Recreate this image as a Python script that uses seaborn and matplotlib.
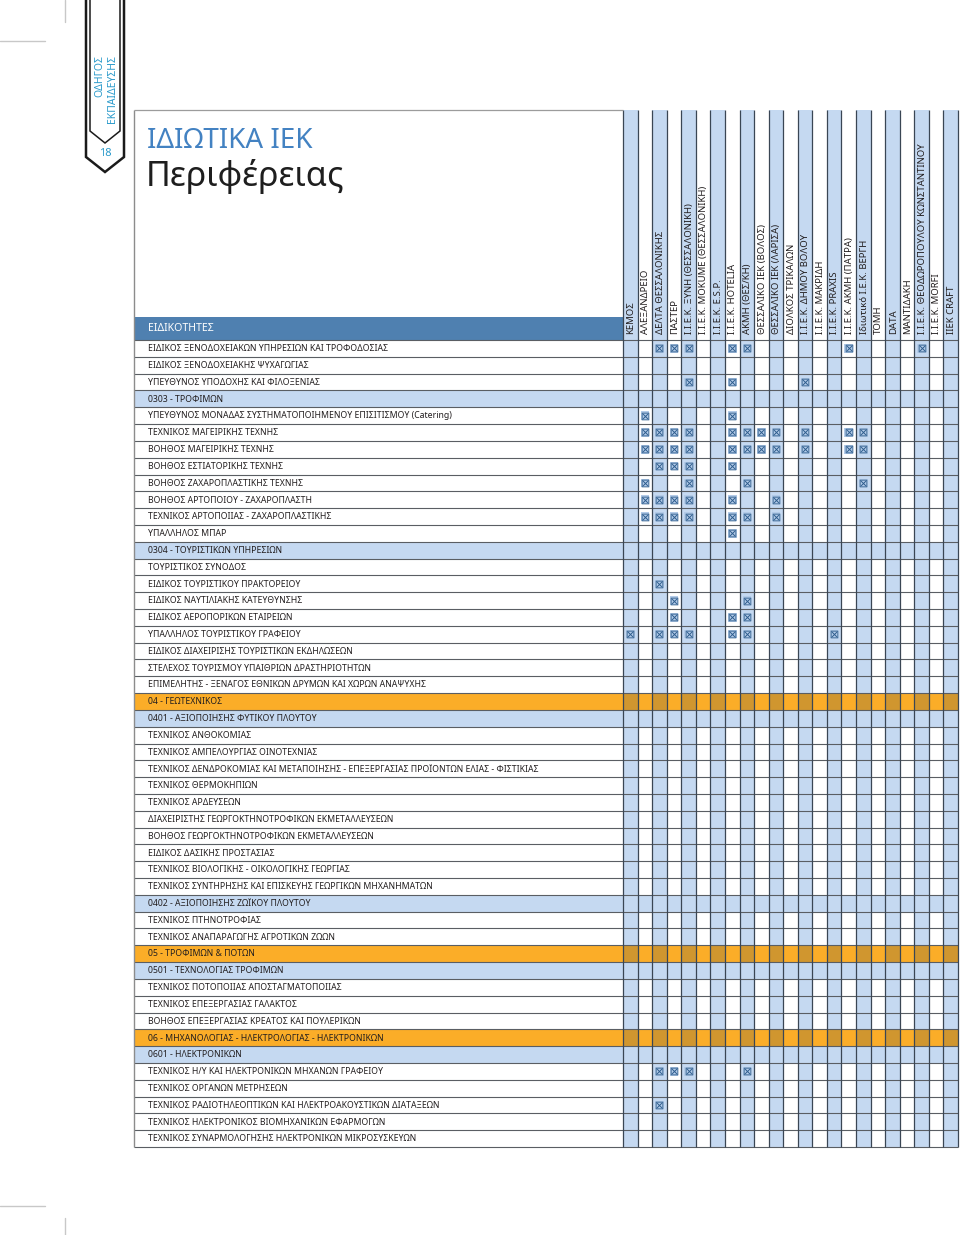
import numpy as np
import pandas as pd
import matplotlib
matplotlib.use("Agg")
import matplotlib.pyplot as plt
import seaborn as sns
from matplotlib.patches import Rectangle, Polygon
from matplotlib.lines import Line2D

sns.set_theme(style="white")
plt.rcParams["font.family"] = ["Noto Sans", "DejaVu Sans"]

# ---------------- data ----------------
institutions = [
    "ΚΕΜΟΣ", "ΑΛΕΞΑΝΔΡΕΙΟ", "ΔΕΛΤΑ ΘΕΣΣΑΛΟΝΙΚΗΣ", "ΠΑΣΤΕΡ",
    "Ι.Ι.Ε.Κ. ΞΥΝΗ (ΘΕΣΣΑΛΟΝΙΚΗ)", "Ι.Ι.Ε.Κ. MOKUME (ΘΕΣΣΑΛΟΝΙΚΗ)",
    "Ι.Ι.Ε.Κ. E.S.P.", "Ι.Ι.Ε.Κ. HOTELIA", "ΑΚΜΗ (ΘΕΣ/ΚΗ)",
    "ΘΕΣΣΑΛΙΚΟ ΙΕΚ (ΒΟΛΟΣ)", "ΘΕΣΣΑΛΙΚΟ ΙΕΚ (ΛΑΡΙΣΑ)", "ΔΙΟΛΚΟΣ ΤΡΙΚΑΛΩΝ",
    "Ι.Ι.Ε.Κ. ΔΗΜΟΥ ΒΟΛΟΥ", "Ι.Ι.Ε.Κ. ΜΑΚΡΙΔΗ", "Ι.Ι.Ε.Κ. PRAXIS",
    "Ι.Ι.Ε.Κ. ΑΚΜΗ (ΠΑΤΡΑ)", "Ιδιωτικό Ι.Ε.Κ. ΒΕΡΓΗ", "ΤΟΜΗ", "DATA",
    "ΜΑΝΤΙΔΑΚΗ", "Ι.Ι.Ε.Κ. ΘΕΟΔΩΡΟΠΟΥΛΟΥ ΚΩΝΣΤΑΝΤΙΝΟΥ", "Ι.Ι.Ε.Κ. MORFI",
    "IIEK CRAFT",
]

specialties = [
    "ΕΙΔΙΚΟΣ ΞΕΝΟΔΟΧΕΙΑΚΩΝ ΥΠΗΡΕΣΙΩΝ ΚΑΙ ΤΡΟΦΟΔΟΣΙΑΣ",
    "ΕΙΔΙΚΟΣ ΞΕΝΟΔΟΧΕΙΑΚΗΣ ΨΥΧΑΓΩΓΙΑΣ",
    "ΥΠΕΥΘΥΝΟΣ ΥΠΟΔΟΧΗΣ ΚΑΙ ΦΙΛΟΞΕΝΙΑΣ",
    "0303 - ΤΡΟΦΙΜΩΝ",
    "ΥΠΕΥΘΥΝΟΣ ΜΟΝΑΔΑΣ ΣΥΣΤΗΜΑΤΟΠΟΙΗΜΕΝΟΥ ΕΠΙΣΙΤΙΣΜΟΥ (Catering)",
    "ΤΕΧΝΙΚΟΣ ΜΑΓΕΙΡΙΚΗΣ ΤΕΧΝΗΣ",
    "ΒΟΗΘΟΣ ΜΑΓΕΙΡΙΚΗΣ ΤΕΧΝΗΣ",
    "ΒΟΗΘΟΣ ΕΣΤΙΑΤΟΡΙΚΗΣ ΤΕΧΝΗΣ",
    "ΒΟΗΘΟΣ ΖΑΧΑΡΟΠΛΑΣΤΙΚΗΣ ΤΕΧΝΗΣ",
    "ΒΟΗΘΟΣ ΑΡΤΟΠΟΙΟΥ - ΖΑΧΑΡΟΠΛΑΣΤΗ",
    "ΤΕΧΝΙΚΟΣ ΑΡΤΟΠΟΙΙΑΣ - ΖΑΧΑΡΟΠΛΑΣΤΙΚΗΣ",
    "ΥΠΑΛΛΗΛΟΣ ΜΠΑΡ",
    "0304 - ΤΟΥΡΙΣΤΙΚΩΝ ΥΠΗΡΕΣΙΩΝ",
    "ΤΟΥΡΙΣΤΙΚΟΣ ΣΥΝΟΔΟΣ",
    "ΕΙΔΙΚΟΣ ΤΟΥΡΙΣΤΙΚΟΥ ΠΡΑΚΤΟΡΕΙΟΥ",
    "ΕΙΔΙΚΟΣ ΝΑΥΤΙΛΙΑΚΗΣ ΚΑΤΕΥΘΥΝΣΗΣ",
    "ΕΙΔΙΚΟΣ ΑΕΡΟΠΟΡΙΚΩΝ ΕΤΑΙΡΕΙΩΝ",
    "ΥΠΑΛΛΗΛΟΣ ΤΟΥΡΙΣΤΙΚΟΥ ΓΡΑΦΕΙΟΥ",
    "ΕΙΔΙΚΟΣ ΔΙΑΧΕΙΡΙΣΗΣ ΤΟΥΡΙΣΤΙΚΩΝ ΕΚΔΗΛΩΣΕΩΝ",
    "ΣΤΕΛΕΧΟΣ ΤΟΥΡΙΣΜΟΥ ΥΠΑΙΘΡΙΩΝ ΔΡΑΣΤΗΡΙΟΤΗΤΩΝ",
    "ΕΠΙΜΕΛΗΤΗΣ - ΞΕΝΑΓΟΣ ΕΘΝΙΚΩΝ ΔΡΥΜΩΝ ΚΑΙ ΧΩΡΩΝ ΑΝΑΨΥΧΗΣ",
    "04 - ΓΕΩΤΕΧΝΙΚΟΣ",
    "0401 - ΑΞΙΟΠΟΙΗΣΗΣ ΦΥΤΙΚΟΥ ΠΛΟΥΤΟΥ",
    "ΤΕΧΝΙΚΟΣ ΑΝΘΟΚΟΜΙΑΣ",
    "ΤΕΧΝΙΚΟΣ ΑΜΠΕΛΟΥΡΓΙΑΣ ΟΙΝΟΤΕΧΝΙΑΣ",
    "ΤΕΧΝΙΚΟΣ ΔΕΝΔΡΟΚΟΜΙΑΣ ΚΑΙ ΜΕΤΑΠΟΙΗΣΗΣ - ΕΠΕΞΕΡΓΑΣΙΑΣ ΠΡΟΪΟΝΤΩΝ ΕΛΙΑΣ - ΦΙΣΤΙΚΙΑΣ",
    "ΤΕΧΝΙΚΟΣ ΘΕΡΜΟΚΗΠΙΩΝ",
    "ΤΕΧΝΙΚΟΣ ΑΡΔΕΥΣΕΩΝ",
    "ΔΙΑΧΕΙΡΙΣΤΗΣ ΓΕΩΡΓΟΚΤΗΝΟΤΡΟΦΙΚΩΝ ΕΚΜΕΤΑΛΛΕΥΣΕΩΝ",
    "ΒΟΗΘΟΣ ΓΕΩΡΓΟΚΤΗΝΟΤΡΟΦΙΚΩΝ ΕΚΜΕΤΑΛΛΕΥΣΕΩΝ",
    "ΕΙΔΙΚΟΣ ΔΑΣΙΚΗΣ ΠΡΟΣΤΑΣΙΑΣ",
    "ΤΕΧΝΙΚΟΣ ΒΙΟΛΟΓΙΚΗΣ - ΟΙΚΟΛΟΓΙΚΗΣ ΓΕΩΡΓΙΑΣ",
    "ΤΕΧΝΙΚΟΣ ΣΥΝΤΗΡΗΣΗΣ ΚΑΙ ΕΠΙΣΚΕΥΗΣ ΓΕΩΡΓΙΚΩΝ ΜΗΧΑΝΗΜΑΤΩΝ",
    "0402 - ΑΞΙΟΠΟΙΗΣΗΣ ΖΩΪΚΟΥ ΠΛΟΥΤΟΥ",
    "ΤΕΧΝΙΚΟΣ ΠΤΗΝΟΤΡΟΦΙΑΣ",
    "ΤΕΧΝΙΚΟΣ ΑΝΑΠΑΡΑΓΩΓΗΣ ΑΓΡΟΤΙΚΩΝ ΖΩΩΝ",
    "05 - ΤΡΟΦΙΜΩΝ & ΠΟΤΩΝ",
    "0501 - ΤΕΧΝΟΛΟΓΙΑΣ ΤΡΟΦΙΜΩΝ",
    "ΤΕΧΝΙΚΟΣ ΠΟΤΟΠΟΙΙΑΣ ΑΠΟΣΤΑΓΜΑΤΟΠΟΙΙΑΣ",
    "ΤΕΧΝΙΚΟΣ ΕΠΕΞΕΡΓΑΣΙΑΣ ΓΑΛΑΚΤΟΣ",
    "ΒΟΗΘΟΣ ΕΠΕΞΕΡΓΑΣΙΑΣ ΚΡΕΑΤΟΣ ΚΑΙ ΠΟΥΛΕΡΙΚΩΝ",
    "06 - ΜΗΧΑΝΟΛΟΓΙΑΣ - ΗΛΕΚΤΡΟΛΟΓΙΑΣ - ΗΛΕΚΤΡΟΝΙΚΩΝ",
    "0601 - ΗΛΕΚΤΡΟΝΙΚΩΝ",
    "ΤΕΧΝΙΚΟΣ Η/Υ ΚΑΙ ΗΛΕΚΤΡΟΝΙΚΩΝ ΜΗΧΑΝΩΝ ΓΡΑΦΕΙΟΥ",
    "ΤΕΧΝΙΚΟΣ ΟΡΓΑΝΩΝ ΜΕΤΡΗΣΕΩΝ",
    "ΤΕΧΝΙΚΟΣ ΡΑΔΙΟΤΗΛΕΟΠΤΙΚΩΝ ΚΑΙ ΗΛΕΚΤΡΟΑΚΟΥΣΤΙΚΩΝ ΔΙΑΤΑΞΕΩΝ",
    "ΤΕΧΝΙΚΟΣ ΗΛΕΚΤΡΟΝΙΚΟΣ ΒΙΟΜΗΧΑΝΙΚΩΝ ΕΦΑΡΜΟΓΩΝ",
    "ΤΕΧΝΙΚΟΣ ΣΥΝΑΡΜΟΛΟΓΗΣΗΣ ΗΛΕΚΤΡΟΝΙΚΩΝ ΜΙΚΡΟΣΥΣΚΕΥΩΝ",
]

# row type: "i" = specialty, "s" = sub-sector (blue), "c" = sector (orange)
row_kind = (["i", "i", "i", "s"] + ["i"] * 8 + ["s"] + ["i"] * 8 + ["c", "s"]
            + ["i"] * 10 + ["s", "i", "i", "c", "s", "i", "i", "i", "c", "s"]
            + ["i"] * 5)

# specialty row index -> institution column indices offering it
offered = {
    0: [2, 3, 4, 7, 8, 15, 20],
    2: [4, 7, 12],
    4: [1, 7],
    5: [1, 2, 3, 4, 7, 8, 9, 10, 12, 15, 16],
    6: [1, 2, 3, 4, 7, 8, 9, 10, 12, 15, 16],
    7: [2, 3, 4, 7],
    8: [1, 4, 8, 16],
    9: [1, 2, 3, 4, 7, 10],
    10: [1, 2, 3, 4, 7, 8, 10],
    11: [7],
    14: [2],
    15: [3, 8],
    16: [3, 7, 8],
    17: [0, 2, 3, 4, 7, 8, 14],
    43: [2, 3, 4, 8],
    45: [2],
}

# ---------------- layout (pixels) ----------------
W, H = 960, 1235
L, R, T, B = 134, 958, 110, 1147
GX, HB = 623, 340
ncol, nrow = len(institutions), len(specialties)
col_w = (R - GX) / ncol
row_h = (B - HB) / nrow

LIGHT = "#c5d9f1"
ORANGE = "#fbad28"
ORANGE_D = "#d0962f"
DARKBLUE = "#4f80b0"
TEAL = "#2a9acb"

fig = plt.figure(figsize=(W / 100, H / 100), dpi=100)
fig.patch.set_facecolor("white")
ax = fig.add_axes([L / W, 1 - B / H, (R - L) / W, (B - T) / H])
x_left = -0.5 - (GX - L) / col_w
y_top = -0.5 - (HB - T) / row_h


def px_x(px):
    return x_left + (px - L) / col_w


def px_y(py):
    return y_top + (py - T) / row_h


# column shading
for c in range(0, ncol, 2):
    ax.add_patch(Rectangle((c - 0.5, y_top), 1, nrow - 0.5 - y_top,
                           facecolor=LIGHT, edgecolor="none", zorder=0.5))
# row shading
for r, k in enumerate(row_kind):
    if k == "s":
        ax.add_patch(Rectangle((x_left, r - 0.5), ncol - 0.5 - x_left, 1,
                               facecolor=LIGHT, edgecolor="none", zorder=1))
    elif k == "c":
        ax.add_patch(Rectangle((x_left, r - 0.5), ncol - 0.5 - x_left, 1,
                               facecolor=ORANGE, edgecolor="none", zorder=1))
        for c in range(0, ncol, 2):
            ax.add_patch(Rectangle((c - 0.5, r - 0.5), 1, 1,
                                   facecolor=ORANGE_D, edgecolor="none", zorder=1.1))

# header bar
ax.add_patch(Rectangle((x_left, px_y(317)), (GX - L) / col_w, px_y(HB) - px_y(317),
                       facecolor=DARKBLUE, edgecolor="none", zorder=2))
ax.text(px_x(148), px_y(328.5), "ΕΙΔΙΚΟΤΗΤΕΣ", color="white", fontsize=7.6,
        va="center", ha="left", zorder=6)

# grid lines
ax.hlines(np.arange(nrow + 1) - 0.5, x_left, ncol - 0.5, color="#5a5e63",
          lw=0.8, zorder=3, clip_on=False)
ax.vlines(np.arange(ncol + 1) - 0.5, y_top, nrow - 0.5, color="#3a4654",
          lw=0.9, zorder=3, clip_on=False)
ax.vlines([x_left], y_top, nrow - 0.5, color="#8c8c8c", lw=1.0, zorder=3, clip_on=False)
ax.hlines([y_top], x_left, -0.5, color="#9c9c9c", lw=0.9, zorder=3, clip_on=False)

# labels
for r, lab in enumerate(specialties):
    ax.text(px_x(148), r + 0.02, lab, fontsize=6.25, color="#231f20",
            va="center", ha="left", zorder=6)
for c, lab in enumerate(institutions):
    ax.text(c + 0.05, px_y(334), lab, fontsize=6.9, color="#231f20",
            rotation=90, va="bottom", ha="center", zorder=6)

# marks
df = pd.DataFrame([(r, c) for r, cols in offered.items() for c in cols],
                  columns=["row", "col"])
sns.scatterplot(data=df, x="col", y="row", marker="s", s=38, color="#b3cbe8",
                edgecolor="none", linewidth=0, ax=ax, zorder=4, legend=False)
sns.scatterplot(data=df, x="col", y="row", marker="$\\boxtimes$", s=30,
                color="#2d5c8c", edgecolor="#2d5c8c", linewidth=0, ax=ax,
                zorder=5, legend=False)
ax.set_xlim(x_left, ncol - 0.5)
ax.set_ylim(nrow - 0.5, y_top)
ax.axis("off")


# ---------------- page decorations ----------------
def fx(px):
    return px / W


def fy(py):
    return 1 - py / H


def fline(xs, ys, **kw):
    fig.add_artist(Line2D([fx(x) for x in xs], [fy(y) for y in ys],
                          transform=fig.transFigure, **kw))


fline([0, 45], [41, 41], color="#c8c8c8", lw=1)
fline([65, 65], [0, 22], color="#c8c8c8", lw=1)
fline([0, 45], [1206, 1206], color="#c8c8c8", lw=1)
fline([65, 65], [1218, 1235], color="#c8c8c8", lw=1)

outer = [(86, -2), (86, 157), (105, 172), (124, 157), (124, -2)]
inner = [(90, -2), (90, 131), (105, 143), (120, 131), (120, -2)]
fig.add_artist(Polygon([(fx(x), fy(y)) for x, y in outer], closed=False, fill=False,
                       edgecolor="#1a1a1a", lw=1.8, transform=fig.transFigure))
fig.add_artist(Polygon([(fx(x), fy(y)) for x, y in inner], closed=False, fill=False,
                       edgecolor="#1a1a1a", lw=1.1, transform=fig.transFigure))
fig.text(fx(100), fy(55), "ΟΔΗΓΟΣ", rotation=90, color=TEAL, fontsize=7.5,
         va="top", ha="center")
fig.text(fx(113), fy(55), "ΕΚΠΑΙΔΕΥΣΗΣ", rotation=90, color=TEAL, fontsize=7.5,
         va="top", ha="center")
fig.text(fx(105), fy(153), "18", color=TEAL, fontsize=8, va="center", ha="center")

fig.text(fx(147), fy(148), "ΙΔΙΩΤΙΚΑ ΙΕΚ", color="#4382c2", fontsize=20,
         va="baseline", ha="left", fontweight="light")
fig.text(fx(146), fy(186), "Περιφέρειας", color="#1e1e1e", fontsize=24.5,
         va="baseline", ha="left", fontweight="light")

fig.savefig("out.png", dpi=100, facecolor="white")
